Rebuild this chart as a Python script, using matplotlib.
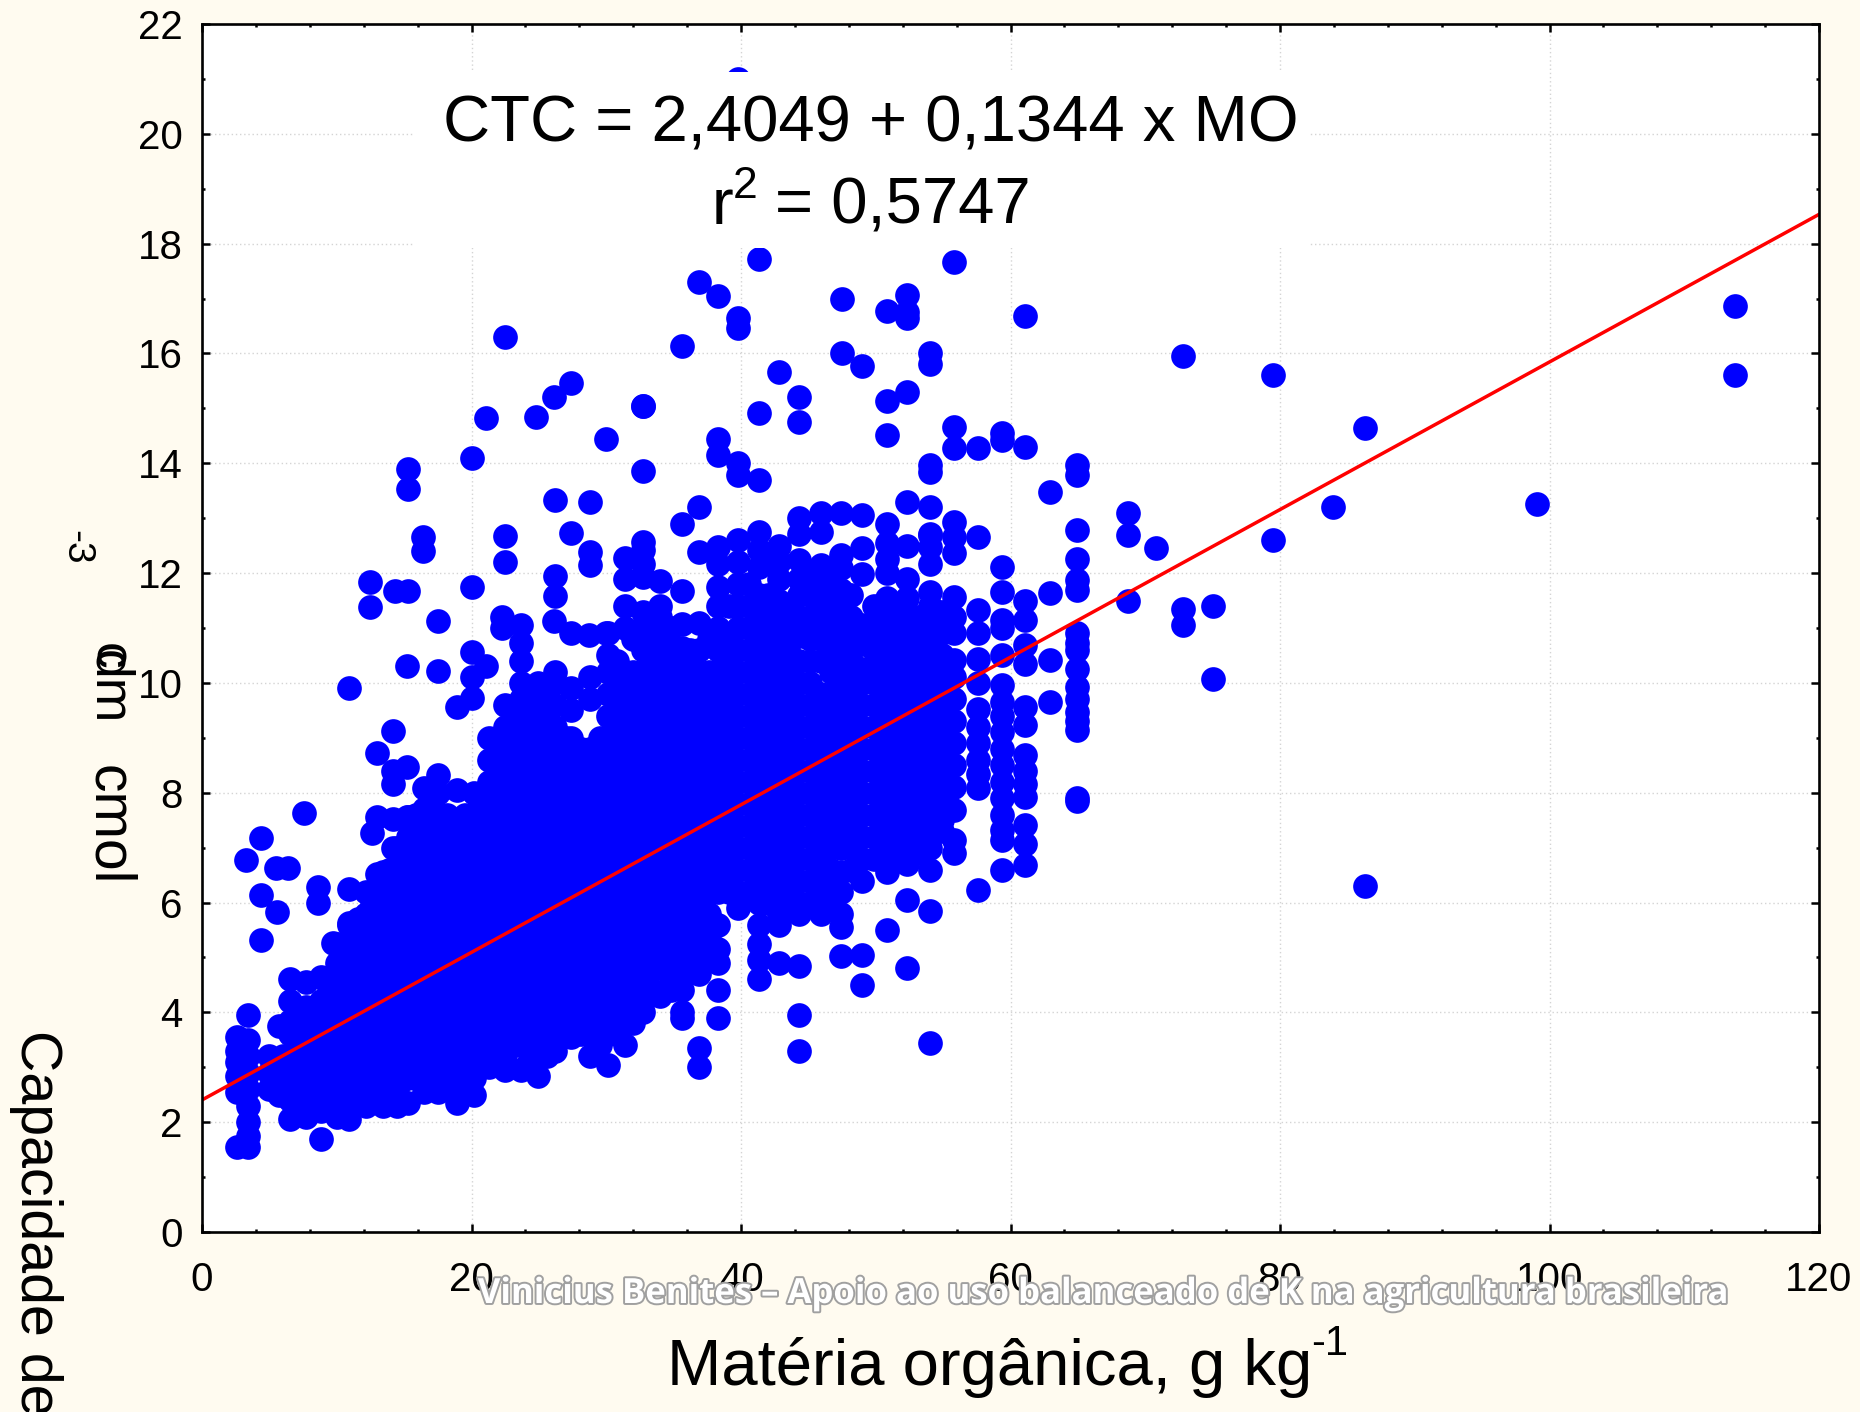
import matplotlib
matplotlib.use("Agg")
import matplotlib.pyplot as plt
import matplotlib.patheffects as pe
from matplotlib.ticker import MultipleLocator

plt.rcParams['font.family'] = ['Liberation Sans', 'DejaVu Sans']

W, H = 1860, 1412
BG = '#FFFBF0'
BLUE = '#0000FF'

x_ticks = [0, 20, 40, 60, 80, 100, 120]
y_ticks = [0, 2, 4, 6, 8, 10, 12, 14, 16, 18, 20, 22]
intercept = 2.4049
slope = 0.1344

# Columns of the dense cloud: organic matter value and the CTC values read at it
mo_columns = [2.6, 3.4, 5.0, 5.7, 6.5, 7.7, 8.8, 10.0, 10.9, 12.2, 13.4, 14.5, 15.3, 16.5, 17.5, 18.9, 20.2,
              21.3, 22.5, 23.7, 24.9, 26.2, 27.4, 28.8, 30.1, 31.4, 32.7, 34.0, 35.6, 36.9, 38.3, 39.8, 41.3,
              42.8, 44.3, 45.9, 47.4, 49.0, 50.8, 52.3, 54.0, 55.8, 57.6, 59.4, 61.1, 62.9, 64.9]
ctc_columns = [
    [1.55, 2.55, 2.85, 3.1, 3.3, 3.55],
    [1.55, 1.75, 2.0, 2.3, 2.6, 2.9, 3.2, 3.5, 3.95],
    [2.6, 2.9, 3.2],
    [2.5, 2.8, 3.1, 3.75],
    [2.05, 2.4, 2.8, 3.2, 3.6, 3.85, 4.2, 4.6],
    [2.1, 2.5, 2.9, 3.3, 3.7, 4.1, 4.55],
    [1.7, 2.2, 2.6, 3.0, 3.4, 3.8, 4.2, 4.65],
    [2.1, 2.5, 2.9, 3.3, 3.7, 4.1, 4.5, 4.9, 5.25],
    [2.05, 2.4, 2.8, 3.2, 3.6, 4.0, 4.4, 4.8, 5.2, 5.6],
    [2.3, 2.6, 3.0, 3.4, 3.8, 4.2, 4.6, 5.0, 5.4, 5.8, 6.2],
    [2.3, 2.8, 3.2, 3.6, 4.0, 4.4, 4.8, 5.2, 5.6, 6.0, 6.3, 6.55],
    [2.3, 2.6, 3.0, 3.4, 3.8, 4.2, 4.6, 5.0, 5.4, 5.8, 6.2, 6.6, 7.0],
    [2.35, 2.8, 3.2, 3.6, 4.0, 4.4, 4.8, 5.2, 5.6, 6.0, 6.4, 6.8, 7.2, 7.55],
    [2.55, 3.0, 3.4, 3.8, 4.2, 4.6, 5.0, 5.4, 5.8, 6.2, 6.6, 7.0, 7.4, 7.7, 8.08],
    [2.55, 2.8, 3.2, 3.6, 4.0, 4.4, 4.8, 5.2, 5.6, 6.0, 6.4, 6.8, 7.2, 7.6, 8.0, 8.33],
    [2.35, 2.7, 3.0, 3.4, 3.8, 4.2, 4.6, 5.0, 5.4, 5.8, 6.2, 6.6, 7.0, 7.4, 8.05],
    [2.5, 2.8, 3.2, 3.6, 4.0, 4.4, 4.8, 5.2, 5.6, 6.0, 6.4, 6.8, 7.2, 7.6, 8.0],
    [3.0, 3.4, 3.8, 4.2, 4.6, 5.0, 5.4, 5.8, 6.2, 6.6, 7.0, 7.4, 7.8, 8.2, 8.6, 9.0],
    [2.95, 3.2, 3.6, 4.0, 4.4, 4.8, 5.2, 5.6, 6.0, 6.4, 6.8, 7.2, 7.6, 8.0, 8.4, 8.8, 9.2, 9.6],
    [2.95, 3.4, 3.8, 4.2, 4.6, 5.0, 5.4, 5.8, 6.2, 6.6, 7.0, 7.4, 7.8, 8.2, 8.6, 9.0, 9.4, 9.7, 10.0],
    [2.85, 3.2, 3.6, 4.0, 4.4, 4.8, 5.2, 5.6, 6.0, 6.4, 6.8, 7.2, 7.6, 8.0, 8.4, 8.8, 9.2, 9.6, 10.0],
    [3.3, 3.7, 4.0, 4.4, 4.8, 5.2, 5.6, 6.0, 6.4, 6.8, 7.2, 7.6, 8.0, 8.4, 8.8, 9.2, 9.6, 10.0, 10.2],
    [3.55, 3.8, 4.2, 4.6, 5.0, 5.4, 5.8, 6.2, 6.6, 7.0, 7.4, 7.8, 8.2, 8.6, 9.0, 9.5, 9.9],
    [3.2, 3.6, 4.0, 4.4, 4.8, 5.2, 5.6, 6.0, 6.4, 6.8, 7.2, 7.6, 8.0, 8.4, 8.8, 9.7, 10.1],
    [3.05, 3.6, 4.0, 4.2, 4.6, 5.0, 5.4, 5.8, 6.2, 6.6, 7.0, 7.4, 7.8, 8.2, 8.6, 9.0, 9.4, 9.8, 10.2, 10.5, 10.9],
    [3.4, 3.8, 4.2, 4.6, 5.0, 5.4, 5.8, 6.2, 6.6, 7.0, 7.4, 7.8, 8.2, 8.6, 9.0, 9.4, 9.8, 10.2, 11.0, 11.4, 11.9, 12.27],
    [4.0, 4.2, 4.6, 5.0, 5.4, 5.8, 6.2, 6.6, 7.0, 7.4, 7.8, 8.2, 8.6, 9.0, 9.4, 9.8, 10.2, 10.6, 11.0, 11.3, 11.93, 12.17, 12.42, 12.57],
    [4.3, 4.8, 5.2, 5.6, 6.0, 6.4, 6.8, 7.2, 7.6, 8.0, 8.4, 8.8, 9.2, 9.6, 10.0, 10.4, 10.8, 11.2, 11.4, 11.85],
    [3.9, 4.0, 4.4, 4.8, 5.2, 5.6, 6.0, 6.4, 6.8, 7.2, 7.6, 8.0, 8.4, 8.8, 9.2, 9.6, 10.0, 10.4, 10.63, 11.08, 11.67, 12.9],
    [3.0, 3.35, 4.7, 5.0, 5.4, 5.8, 6.2, 6.6, 7.0, 7.4, 7.8, 8.2, 8.6, 9.0, 9.4, 9.8, 10.2, 10.6, 11.1, 12.39, 13.2],
    [3.9, 4.4, 4.9, 5.15, 5.6, 6.2, 6.6, 7.0, 7.4, 7.8, 8.2, 8.6, 9.0, 9.4, 9.8, 10.2, 10.6, 11.0, 11.4, 11.75, 12.17, 12.48],
    [5.9, 6.2, 6.6, 7.0, 7.4, 7.8, 8.2, 8.6, 9.0, 9.4, 9.8, 10.2, 10.6, 11.0, 11.4, 11.8, 12.2, 12.6],
    [4.6, 4.95, 5.25, 5.6, 6.0, 6.4, 6.8, 7.2, 7.6, 8.0, 8.4, 8.8, 9.2, 9.6, 10.0, 10.4, 10.8, 11.2, 11.6, 12.12, 12.42, 12.75, 13.69],
    [4.9, 5.6, 5.8, 6.2, 6.6, 7.0, 7.4, 7.8, 8.2, 8.6, 9.0, 9.4, 9.8, 10.2, 10.45, 10.8, 11.15, 11.5, 11.9, 12.2, 12.5],
    [3.3, 3.95, 4.85, 5.8, 6.0, 6.4, 6.8, 7.2, 7.6, 8.0, 8.4, 8.8, 9.2, 9.6, 10.0, 10.4, 10.85, 11.2, 11.6, 11.9, 12.24, 12.72, 13.0],
    [5.8, 6.2, 6.6, 7.0, 7.4, 7.8, 8.2, 8.6, 9.0, 9.4, 9.8, 10.4, 10.8, 11.0, 11.4, 11.7, 12.15, 12.75, 13.09],
    [5.03, 5.55, 5.8, 6.2, 6.55, 7.0, 7.4, 7.8, 8.2, 8.6, 9.0, 9.4, 9.8, 10.2, 10.6, 11.0, 11.35, 11.7, 12.1, 12.33, 13.09],
    [4.5, 5.05, 6.4, 6.8, 7.2, 7.6, 8.0, 8.4, 8.8, 9.2, 9.6, 10.0, 10.26, 10.7, 11.05, 11.99, 12.45, 13.05],
    [5.5, 6.55, 6.95, 7.35, 7.75, 8.15, 8.55, 8.95, 9.35, 9.75, 10.15, 10.55, 10.95, 11.35, 11.55, 12.0, 12.25, 12.54, 12.9],
    [4.8, 6.05, 6.7, 7.1, 7.5, 7.9, 8.3, 8.7, 9.1, 9.5, 9.9, 10.3, 10.7, 11.15, 11.55, 11.9, 12.5, 13.3],
    [3.45, 5.85, 6.6, 7.0, 7.4, 7.8, 8.2, 8.6, 9.0, 9.4, 9.8, 10.2, 10.6, 10.96, 11.14, 11.4, 11.66, 12.17, 12.48, 12.72, 13.2, 13.85, 13.97],
    [6.9, 7.13, 7.68, 8.1, 8.5, 8.9, 9.3, 9.7, 10.1, 10.41, 10.9, 11.2, 11.57, 12.36, 12.66, 12.93, 14.27, 14.66],
    [6.22, 8.08, 8.35, 8.6, 8.9, 9.2, 9.53, 9.99, 10.44, 10.9, 11.32, 12.66, 14.27],
    [6.59, 7.13, 7.32, 7.6, 7.9, 8.2, 8.5, 8.8, 9.1, 9.4, 9.66, 9.96, 10.5, 11.0, 11.14, 11.66, 12.11, 14.42, 14.55],
    [6.68, 7.07, 7.41, 7.92, 8.15, 8.4, 8.68, 9.23, 9.56, 10.35, 10.69, 11.14, 11.5, 14.3],
    [9.65, 10.41, 11.63, 13.47],
    [7.85, 7.9, 9.14, 9.3, 9.47, 9.7, 9.93, 10.26, 10.6, 10.72, 10.9, 11.69, 11.87, 12.25, 12.79, 13.78, 13.97],
]

# Further columns that lie between those above, where the cloud is solid
mo_between = [6.0, 7.1, 8.2, 9.4, 11.6, 12.8, 13.9, 15.9, 17.0, 18.2, 19.5, 20.7, 21.9, 24.3, 25.6, 27.0, 28.1, 29.5,
              30.8, 32.0, 33.4, 34.8, 36.2, 37.6, 39.1, 40.6, 42.0, 43.5, 45.1, 46.7, 48.2, 49.9, 51.5, 53.1, 54.9]
ctc_between = [
    [2.8, 3.2],
    [2.4, 2.8, 3.2, 3.6, 4.0],
    [2.4, 2.8, 3.2, 3.6, 4.0],
    [2.4, 2.8, 3.2, 3.6, 4.0, 4.4],
    [2.5, 2.9, 3.3, 3.7, 4.1, 4.5, 4.9, 5.3, 5.7],
    [2.6, 3.0, 3.4, 3.8, 4.2, 4.6, 5.0, 5.4, 5.8, 6.2],
    [2.6, 3.0, 3.4, 3.8, 4.2, 4.6, 5.0, 5.4, 5.8, 6.2, 6.6],
    [2.8, 3.2, 3.6, 4.0, 4.4, 4.8, 5.2, 5.6, 6.0, 6.4, 6.8, 7.2, 7.6],
    [2.8, 3.2, 3.6, 4.0, 4.4, 4.8, 5.2, 5.6, 6.0, 6.4, 6.8, 7.2, 7.6, 8.0],
    [2.8, 3.2, 3.6, 4.0, 4.4, 4.8, 5.2, 5.6, 6.0, 6.4, 6.8, 7.2, 7.6],
    [2.8, 3.2, 3.6, 4.0, 4.4, 4.8, 5.2, 5.6, 6.0, 6.4, 6.8, 7.2, 7.6],
    [3.0, 3.2, 3.6, 4.0, 4.4, 4.8, 5.2, 5.6, 6.0, 6.4, 6.8, 7.2, 7.6, 8.0],
    [3.2, 3.6, 4.0, 4.4, 4.8, 5.2, 5.6, 6.0, 6.4, 6.8, 7.2, 7.6, 8.0, 8.4, 8.8],
    [3.1, 3.4, 3.8, 4.2, 4.6, 5.0, 5.4, 5.8, 6.2, 6.6, 7.0, 7.4, 7.8, 8.2, 8.6, 9.0, 9.4, 9.6],
    [3.2, 3.6, 4.0, 4.4, 4.8, 5.2, 5.6, 6.0, 6.4, 6.8, 7.2, 7.6, 8.0, 8.4, 8.8, 9.2, 9.6, 9.8],
    [3.7, 4.0, 4.4, 4.8, 5.2, 5.6, 6.0, 6.4, 6.8, 7.2, 7.6, 8.0, 8.4, 8.8, 9.0],
    [3.6, 4.0, 4.4, 4.8, 5.2, 5.6, 6.0, 6.4, 6.8, 7.2, 7.6, 8.0, 8.4, 8.8],
    [3.4, 3.8, 4.2, 4.6, 5.0, 5.4, 5.8, 6.2, 6.6, 7.0, 7.4, 7.8, 8.2, 8.6, 9.0],
    [3.6, 4.0, 4.4, 4.8, 5.2, 5.6, 6.0, 6.4, 6.8, 7.2, 7.6, 8.0, 8.4, 8.8, 9.2, 9.6, 10.0, 10.4],
    [3.8, 4.2, 4.6, 5.0, 5.4, 5.8, 6.2, 6.6, 7.0, 7.4, 7.8, 8.2, 8.6, 9.0, 9.4, 9.8, 10.2, 10.8],
    [4.4, 4.8, 5.2, 5.6, 6.0, 6.4, 6.8, 7.2, 7.6, 8.0, 8.4, 8.8, 9.2, 9.6, 10.0, 10.4, 11.0],
    [4.4, 4.6, 5.0, 5.4, 5.8, 6.2, 6.6, 7.0, 7.4, 7.8, 8.2, 8.6, 9.0, 9.4, 9.8, 10.2, 10.6, 11.0],
    [4.8, 5.2, 5.6, 6.0, 6.4, 6.8, 7.2, 7.6, 8.0, 8.4, 8.8, 9.2, 9.6, 10.0, 10.6],
    [5.0, 5.4, 5.8, 6.2, 6.6, 7.0, 7.4, 7.8, 8.2, 8.6, 9.0, 9.4, 9.8, 10.2, 10.8],
    [6.2, 6.4, 6.8, 7.2, 7.6, 8.0, 8.4, 8.8, 9.2, 9.6, 10.0, 10.4, 10.8, 11.4],
    [6.2, 6.6, 7.0, 7.4, 7.8, 8.2, 8.6, 9.0, 9.4, 9.8, 10.2, 10.6, 11.0, 11.4, 11.8],
    [6.0, 6.4, 6.8, 7.2, 7.6, 8.0, 8.4, 8.8, 9.2, 9.6, 10.0, 10.4, 10.8, 11.2, 11.6],
    [6.0, 6.2, 6.6, 7.0, 7.4, 7.8, 8.2, 8.6, 9.0, 9.4, 9.8, 10.2, 10.6, 11.0, 11.4],
    [6.0, 6.4, 6.8, 7.2, 7.6, 8.0, 8.4, 8.8, 9.2, 9.6, 10.0, 10.4, 10.8, 11.2, 11.6, 12.0],
    [6.0, 6.2, 6.6, 7.0, 7.4, 7.8, 8.2, 8.6, 9.0, 9.4, 9.8, 10.2, 10.6, 11.0, 11.4, 11.8],
    [6.6, 7.0, 7.4, 7.8, 8.2, 8.6, 9.0, 9.4, 9.8, 10.0, 10.4, 10.8, 11.2, 11.6],
    [6.8, 7.2, 7.6, 8.0, 8.4, 8.8, 9.2, 9.6, 10.0, 10.2, 10.6, 11.0, 11.4],
    [6.9, 7.3, 7.7, 8.1, 8.5, 8.9, 9.3, 9.7, 10.1, 10.5, 10.9, 11.3],
    [6.9, 7.2, 7.6, 8.0, 8.4, 8.8, 9.2, 9.6, 10.0, 10.1, 10.5, 10.9, 11.2],
    [7.3, 7.5, 7.9, 8.3, 8.7, 9.1, 9.5, 9.9, 10.1, 10.5, 10.9, 11.3],
]

# Isolated points read individually
mo_sparse = [113.8, 113.8, 99.1, 86.3, 86.3, 83.9, 79.5, 79.5, 72.8, 72.8, 72.8, 75.0, 75.0, 70.8, 68.7, 68.7, 68.7,
             22.5, 21.1, 20.0, 15.3, 15.3, 24.8, 26.1, 27.4, 30.0, 32.7, 36.9, 38.3, 35.6, 39.8, 39.8, 41.3, 42.8,
             44.3, 44.3, 47.5, 47.5, 49.0, 50.8, 50.8, 50.8, 52.3, 52.3, 52.3, 52.3, 54.0, 54.0, 55.8, 61.1, 41.3,
             38.3, 38.3, 39.8, 39.8, 26.2, 28.8, 22.5, 22.5, 16.4, 16.4, 27.4, 26.2, 26.2, 12.5, 12.5, 14.3, 15.3,
             20.0, 17.5, 22.3, 22.3, 23.7, 26.1, 27.4, 28.7, 28.8, 28.8, 30.0, 10.9, 15.2, 17.5, 18.9, 20.0, 20.0,
             20.0, 21.1, 14.2, 13.0, 15.2, 14.2, 14.2, 7.6, 4.4, 3.3, 5.5, 6.4, 4.4, 5.6, 4.4, 8.6, 8.6, 10.9, 10.9,
             9.7, 13.0, 14.2, 15.2, 12.6, 14.2, 12.6, 12.6, 13.0, 32.7, 32.7, 23.7, 23.7, 39.8, 54.0]
ctc_sparse = [16.86, 15.6, 13.25, 14.65, 6.3, 13.2, 15.6, 12.6, 15.95, 11.35, 11.05, 11.4, 10.07, 12.45, 13.1, 12.7, 11.5,
              16.3, 14.83, 14.1, 13.9, 13.53, 14.85, 15.2, 15.47, 14.44, 15.04, 17.3, 17.05, 16.13, 16.65, 16.47, 17.72, 15.67,
              15.2, 14.76, 17.0, 16.0, 15.78, 16.77, 15.13, 14.52, 17.07, 16.75, 16.65, 15.3, 16.0, 15.8, 17.66, 16.68, 14.92,
              14.45, 14.15, 14.0, 13.78, 13.34, 13.3, 12.67, 12.2, 12.66, 12.4, 12.73, 11.95, 11.58, 11.84, 11.38, 11.67, 11.67,
              11.74, 11.13, 11.2, 11.0, 11.05, 11.13, 10.9, 10.87, 12.38, 12.15, 10.9, 9.9, 10.3, 10.22, 9.57, 10.57, 10.1,
              9.73, 10.3, 9.12, 8.72, 8.47, 8.4, 8.15, 7.63, 7.18, 6.78, 6.63, 6.63, 6.13, 5.83, 5.32, 6.28, 6.0, 6.25, 5.63,
              5.27, 7.56, 7.52, 7.56, 7.27, 7.0, 6.2, 5.95, 6.52, 13.86, 15.04, 10.72, 10.4, 21.0, 12.7]

mo_all = ([x for x, ys in zip(mo_columns, ctc_columns) for _ in ys]
          + [x for x, ys in zip(mo_between, ctc_between) for _ in ys] + mo_sparse)
ctc_all = [y for ys in ctc_columns for y in ys] + [y for ys in ctc_between for y in ys] + ctc_sparse

fig = plt.figure(figsize=(W / 100, H / 100), dpi=100, facecolor=BG)
ax = fig.add_axes([202 / W, (H - 1232) / H, 1617 / W, 1208 / H])
ax.set_facecolor('white')
ax.set_xlim(0, 120)
ax.set_ylim(0, 22)

ax.grid(True, which='major', color='#d4d4d4', lw=1.0, ls=(0, (1, 2)), zorder=0)
ax.set_axisbelow(True)
ax.scatter(mo_all, ctc_all, s=316, c=BLUE, linewidths=0, zorder=3, clip_on=True)
ax.plot([0, 120], [intercept, intercept + slope * 120], color='#FF0000', lw=2.5, zorder=4)

ax.set_xticks(x_ticks)
ax.set_yticks(y_ticks)
ax.xaxis.set_minor_locator(MultipleLocator(4))
ax.yaxis.set_minor_locator(MultipleLocator(1))
ax.tick_params(which='major', direction='in', length=6, width=1.8, top=True, right=True,
               labelsize=29)
ax.tick_params(which='minor', direction='in', length=2.5, width=1.8, top=True, right=True)
ax.tick_params(axis='x', which='major', pad=21)
ax.tick_params(axis='y', which='major', pad=14)
for s in ax.spines.values():
    s.set_linewidth(1.9)
    s.set_color('black')
    s.set_zorder(6)


def px(x, y):
    return x / W, 1 - y / H


# White panel behind the equation
fig.add_artist(plt.Rectangle((413 / W, 1 - 248 / H), (1309 - 413) / W, (248 - 72) / H,
                             transform=fig.transFigure, fc='white', ec='none', zorder=5))
fig.text(*px(871, 124), 'CTC = 2,4049 + 0,1344 x MO', fontsize=47, ha='center', va='center', zorder=7)
fig.text(*px(733, 207), 'r', fontsize=47, ha='right', va='center', zorder=7)
fig.text(*px(733, 186), '2', fontsize=32, ha='left', va='center', zorder=7)
fig.text(*px(775, 207), '= 0,5747', fontsize=47, ha='left', va='center', zorder=7)

# Axis titles
fig.text(*px(990, 1368), 'Matéria orgânica, g kg', fontsize=47, ha='center', va='center')
fig.text(*px(1311, 1344), '-1', fontsize=30, ha='left', va='center')
fig.text(*px(36, 1030), 'Capacidade de', fontsize=41.3, rotation=-90, ha='center', va='top')
fig.text(*px(108, 765), 'cmol', fontsize=41, rotation=-90, ha='center', va='top')
fig.text(*px(108, 650), 'dm', fontsize=38.5, rotation=-90, ha='center', va='top')
fig.text(*px(108, 643), 'c', fontsize=38.5, rotation=-90, ha='center', va='top')
fig.text(*px(76, 530), '-3', fontsize=28, rotation=-90, ha='center', va='top')

# Watermark
fig.text(*px(1103, 1294), 'Vinicius Benites – Apoio ao uso balanceado de K na agricultura brasileira',
         fontsize=25, family=['Open Sans', 'DejaVu Sans'], weight='bold', color='white', ha='center', va='center',
         zorder=10, path_effects=[pe.withStroke(linewidth=2.8, foreground='#a0a0a0')])

fig.savefig('out.png', dpi=100, facecolor=BG)
